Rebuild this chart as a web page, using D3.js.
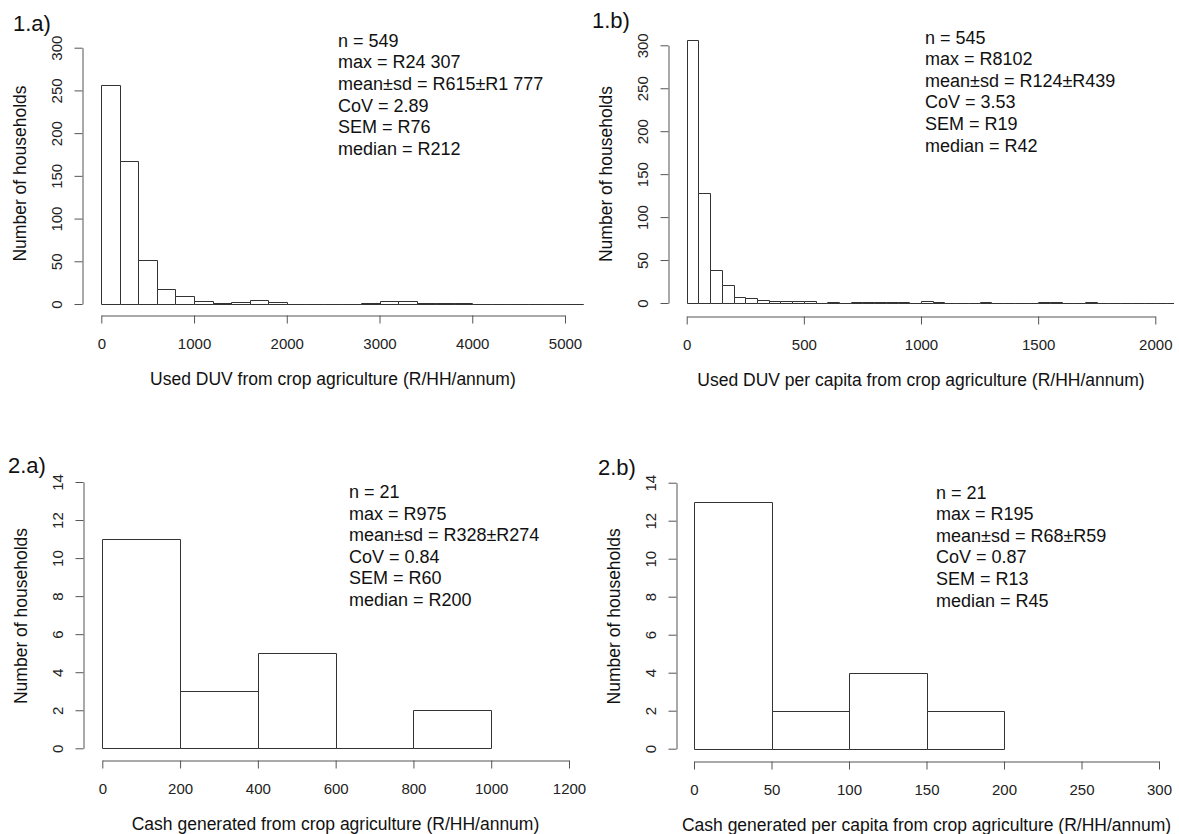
<!DOCTYPE html>
<html>
<head>
<meta charset="utf-8">
<script src="https://cdn.jsdelivr.net/npm/d3@7"></script>
<style>
  body { margin: 0; background: #fff; }
  text { font-family: "Liberation Sans", Arial, sans-serif; }
</style>
</head>
<body>
<div id="chart"></div>
<script>
// bin counts (R style, equal width bins from 0)
const duvCounts = [256,167,52,18,9,4,1,2,5,2,0,0,0,0,1,4,4,1,1,1,0,0,0,0,0,0,0];
const duvPerCapitaCounts = [306,128,38,21,7,6,3,2,2,2,2,0,1,0,1,1,1,1,1,0,2,1,0,0,0,1,0,0,0,0,1,1,0,0,1,0,0,0,0,0,0,0,0];
const cashCounts = [11,3,5,0,2];
const cashPerCapitaCounts = [13,2,4,2];
const binWidths = [200, 50, 200, 50];

const xTicksDuv = [0,1000,2000,3000,4000,5000];
const xTicksDuvPerCapita = [0,500,1000,1500,2000];
const xTicksCash = [0,200,400,600,800,1000,1200];
const xTicksCashPerCapita = [0,50,100,150,200,250,300];
const yTicksTop = [0,50,100,150,200,250,300];
const yTicksBottom = [0,2,4,6,8,10,12,14];

const panelLabels = ['1.a)','1.b)','2.a)','2.b)'];
const xTitles = [
    'Used DUV from crop agriculture (R/HH/annum)',
    'Used DUV per capita from crop agriculture (R/HH/annum)',
    'Cash generated from crop agriculture (R/HH/annum)',
    'Cash generated per capita from crop agriculture (R/HH/annum)'
];
const yTitle = 'Number of households';
const statsDuv = ['n = 549','max = R24 307','mean\u00b1sd = R615\u00b1R1 777','CoV = 2.89','SEM = R76','median = R212'];
const statsDuvPerCapita = ['n = 545','max = R8102','mean\u00b1sd = R124\u00b1R439','CoV = 3.53','SEM = R19','median = R42'];
const statsCash = ['n = 21','max = R975','mean\u00b1sd = R328\u00b1R274','CoV = 0.84','SEM = R60','median = R200'];
const statsCashPerCapita = ['n = 21','max = R195','mean\u00b1sd = R68\u00b1R59','CoV = 0.87','SEM = R13','median = R45'];

// pixel layout of each panel
let layout = [
    {x0:101.3, x1:565,   y0:304,   y1:47.7,  left:82.3,  right:583.5, top:30,  axisY:315,
     labelX:13,  labelY:31,  statsX:338, statsY:46.7},
    {x0:686.7, x1:1155.3,y0:303,   y1:45.3,  left:668,   right:1174,  top:30,  axisY:316,
     labelX:592, labelY:28,  statsX:925, statsY:43.5},
    {x0:102.3, x1:569,   y0:748.3, y1:482,   left:83.3,  right:587.7, top:470, axisY:760,
     labelX:8,   labelY:473, statsX:349, statsY:498},
    {x0:694,   x1:1159,  y0:748.7, y1:482.7, left:675.5, right:1177.6,top:470, axisY:760.7,
     labelX:598, labelY:475, statsX:936, statsY:498.6}
];

const panels = [
    {counts:duvCounts, xTicks:xTicksDuv, yTicks:yTicksTop, stats:statsDuv},
    {counts:duvPerCapitaCounts, xTicks:xTicksDuvPerCapita, yTicks:yTicksTop, stats:statsDuvPerCapita},
    {counts:cashCounts, xTicks:xTicksCash, yTicks:yTicksBottom, stats:statsCash},
    {counts:cashPerCapitaCounts, xTicks:xTicksCashPerCapita, yTicks:yTicksBottom, stats:statsCashPerCapita}
];

const svg = d3.select('#chart').append('svg')
    .attr('width', 1179)
    .attr('height', 834)
    .style('background-color', '#FFFFFF');

const axisColor = '#555';
const barColor = '#333';

function draw_panel(p, i) {
    let L = layout[i];
    let xTicks = p.xTicks, yTicks = p.yTicks;
    let x = d3.scaleLinear()
        .domain([xTicks[0], xTicks[xTicks.length - 1]])
        .range([L.x0, L.x1]);
    let y = d3.scaleLinear()
        .domain([yTicks[0], yTicks[yTicks.length - 1]])
        .range([L.y0, L.y1]);

    let g = svg.append('g').attr('class', 'panel');

    g.append('clipPath')
        .attr('id', 'clip' + i)
        .append('rect')
        .attr('x', L.left)
        .attr('y', L.top - 20)
        .attr('width', L.right - L.left)
        .attr('height', L.axisY - L.top + 20);

    // bins, zero height ones become a line on the baseline
    let bins = p.counts.map((c, k) => ({x0: k * binWidths[i], x1: (k + 1) * binWidths[i], n: c}));
    let px = v => Math.round(v) + 0.5;
    g.append('g')
        .attr('clip-path', `url(#clip${i})`)
        .selectAll('path')
        .data(bins)
        .enter()
        .append('path')
        .attr('d', d => {
            let a = px(x(d.x0)), b = px(x(d.x1)), base = px(y(0)), t = px(y(d.n));
            return `M${a},${base}V${t}H${b}V${base}Z`;
        })
        .attr('fill', '#fff')
        .attr('stroke', barColor)
        .attr('stroke-width', 1);

    // y axis
    let yAxis = g.append('g')
        .attr('transform', `translate(${px(L.left)},0)`)
        .call(d3.axisLeft(y).tickValues(yTicks).tickFormat(d3.format('d')).tickSize(8).tickSizeOuter(0));
    yAxis.selectAll('text')
        .attr('x', null)
        .attr('dy', null)
        .attr('text-anchor', 'middle')
        .attr('dominant-baseline', 'central')
        .attr('transform', 'translate(-26,0) rotate(-90)')
        .attr('fill', '#222')
        .style('font-size', '15px')
        .style('font-family', '"Liberation Sans", Arial, sans-serif');

    // x axis
    let xAxis = g.append('g')
        .attr('transform', `translate(0,${px(L.axisY)})`)
        .call(d3.axisBottom(x).tickValues(xTicks).tickFormat(d3.format('d')).tickSize(8).tickSizeOuter(0));
    xAxis.selectAll('text')
        .attr('y', 28.3)
        .attr('dy', '0.36em')
        .attr('fill', '#222')
        .style('font-size', '15px')
        .style('font-family', '"Liberation Sans", Arial, sans-serif');

    [yAxis, xAxis].forEach(a => {
        a.select('.domain').attr('stroke', axisColor);
        a.selectAll('.tick line').attr('stroke', axisColor);
    });

    // titles
    g.append('text')
        .text(xTitles[i])
        .attr('x', (L.left + L.right) / 2)
        .attr('y', L.axisY + 64)
        .attr('dy', '0.36em')
        .attr('text-anchor', 'middle')
        .attr('fill', '#111')
        .style('font-size', '17.5px');

    let yMid = (L.top + L.axisY) / 2 + 1;
    g.append('text')
        .text(yTitle)
        .attr('text-anchor', 'middle')
        .attr('dominant-baseline', 'central')
        .attr('transform', `translate(${L.left - 62},${yMid}) rotate(-90)`)
        .attr('fill', '#111')
        .style('font-size', '17.5px');

    g.append('text')
        .text(panelLabels[i])
        .attr('x', L.labelX)
        .attr('y', L.labelY)
        .attr('fill', '#111')
        .style('font-size', '22px');

    g.selectAll('.stat')
        .data(p.stats)
        .enter()
        .append('text')
        .attr('class', 'stat')
        .text(d => d)
        .attr('x', L.statsX)
        .attr('y', (d, k) => L.statsY + k * 21.6)
        .attr('fill', '#111')
        .style('font-size', '18px');
}

panels.forEach(draw_panel);
</script>
</body>
</html>
